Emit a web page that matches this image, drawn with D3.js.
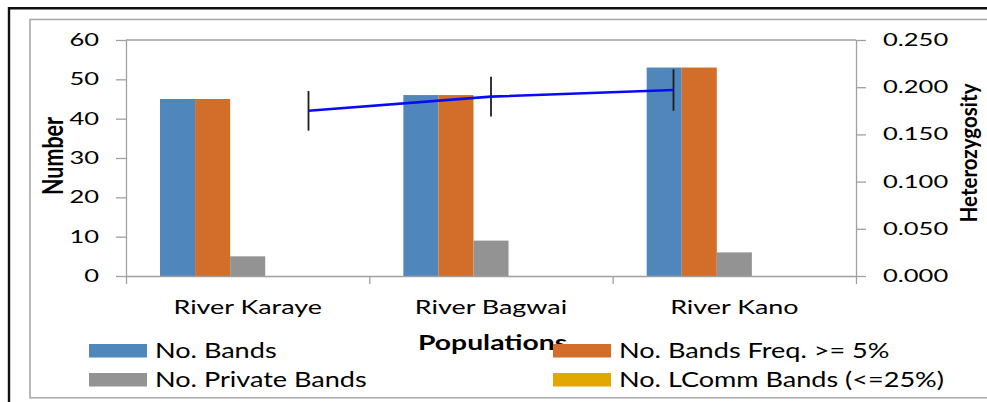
<!DOCTYPE html>
<html>
<head>
<meta charset="utf-8">
<script src="https://cdn.jsdelivr.net/npm/d3@7"></script>
<style>
  html, body { margin: 0; padding: 0; background: #fff; }
  svg { display: block; }
  text { font-family: Lato, "Open Sans", sans-serif; fill: #000; }
</style>
</head>
<body>
<svg id="chart" width="987" height="402"></svg>
<script>
// ---------- data ----------
const categories = ["River Karaye", "River Bagwai", "River Kano"];
const seriesNames = ["No. Bands", "No. Bands Freq. >= 5%", "No. Private Bands", "No. LComm Bands (<=25%)"];
const noBands = [45, 46, 53];
const noBandsFreq5 = [45, 46, 53];
const noPrivateBands = [5, 9, 6];
const noLCommBands = [0, 0, 0];
const heterozygosity = [0.175, 0.190, 0.197];
const heterozygosityError = [0.021, 0.021, 0.022];
const leftTicks = [0, 10, 20, 30, 40, 50, 60];
const rightTicks = [0, 0.05, 0.10, 0.15, 0.20, 0.25];
const xTitle = "Populations";
const yLeftTitle = "Number";
const yRightTitle = "Heterozygosity";

const seriesValues = [noBands, noBandsFreq5, noPrivateBands, noLCommBands];
const seriesColors = ["#4F87BC", "#D36D2A", "#939393", "#E2A700"];
const barSlots = 5; // the column groups leave room for five bars per category

// ---------- layout ----------
const W = 987, H = 402;
const plot = { left: 126, right: 856, top: 40, bottom: 276 };
const axisGray = "#A0A0A0";

const svg = d3.select("#chart");

function stretch(sel, k) {
  sel.each(function () {
    const w = this.getComputedTextLength();
    d3.select(this).attr("textLength", w * k).attr("lengthAdjust", "spacingAndGlyphs");
  });
}

svg.append("rect").attr("width", W).attr("height", H).attr("fill", "#fff");

// frames
svg.append("path").attr("d", `M9,${H} V8.3 H${W}`).attr("fill", "none")
  .attr("stroke", "#111").attr("stroke-width", 2.4);
svg.append("path").attr("d", `M${W},19.5 H30 V397.7 H${W}`).attr("fill", "none")
  .attr("stroke", "#A8A8A8").attr("stroke-width", 1.6);

// ---------- scales ----------
const x = d3.scaleBand().domain(categories).range([plot.left, plot.right]).padding(0);
const x1 = d3.scaleBand().domain(d3.range(barSlots)).range([0, x.bandwidth()]).paddingInner(0).paddingOuter(0.97);
const xEdge = d3.scaleLinear().domain([0, categories.length]).range([plot.left, plot.right]);
const xLine = d3.scalePoint().domain(categories).range([plot.left, plot.right]).padding(1);
const yL = d3.scaleLinear().domain([0, 60]).range([plot.bottom, plot.top]);
const yR = d3.scaleLinear().domain([0, 0.25]).range([plot.bottom, plot.top]);

// plot area top border
svg.append("line").attr("x1", plot.left).attr("x2", plot.right)
  .attr("y1", plot.top).attr("y2", plot.top).attr("stroke", axisGray).attr("stroke-width", 1.3);

// ---------- bars ----------
const barG = svg.append("g");
seriesValues.forEach((vals, si) => {
  barG.selectAll(null).data(categories).enter().append("rect")
    .attr("x", c => x(c) + x1(si))
    .attr("width", x1.bandwidth())
    .attr("y", (c, i) => yL(vals[i]))
    .attr("height", (c, i) => yL(0) - yL(vals[i]))
    .attr("fill", seriesColors[si]);
});

// ---------- axes ----------
function styleAxis(g) {
  g.selectAll("path.domain").attr("stroke", axisGray).attr("stroke-width", 1.3);
  g.selectAll(".tick line").attr("stroke", axisGray).attr("stroke-width", 1.3);
}

const gL = svg.append("g").attr("transform", `translate(${plot.left},0)`)
  .call(d3.axisLeft(yL).tickValues(leftTicks).tickSize(10).tickSizeOuter(0).tickPadding(17));
styleAxis(gL);
gL.selectAll(".tick text").attr("font-size", 17).attr("font-family", "Lato").attr("fill", "#000").call(stretch, 1.5);

const gR = svg.append("g").attr("transform", `translate(${plot.right},0)`)
  .call(d3.axisRight(yR).tickValues(rightTicks).tickFormat(d3.format(".3f")).tickSize(10).tickSizeOuter(0).tickPadding(17));
styleAxis(gR);
gR.selectAll(".tick text").attr("font-size", 17).attr("font-family", "Lato").attr("fill", "#000").call(stretch, 1.5);

const gB = svg.append("g").attr("transform", `translate(0,${plot.bottom})`)
  .call(d3.axisBottom(xEdge).tickValues(d3.range(categories.length + 1)).tickFormat("").tickSize(8).tickSizeOuter(0));
styleAxis(gB);

const gBL = svg.append("g").attr("transform", `translate(0,${plot.bottom})`)
  .call(d3.axisBottom(x).tickSize(0).tickPadding(24));
gBL.select("path.domain").remove();
gBL.selectAll(".tick text").attr("font-size", 19.5).attr("font-family", "Lato").attr("fill", "#000").call(stretch, 1.38);

// ---------- heterozygosity line with error bars ----------
svg.append("g").selectAll("line").data(categories).enter().append("line")
  .attr("x1", c => xLine(c)).attr("x2", c => xLine(c))
  .attr("y1", (c, i) => yR(heterozygosity[i] + heterozygosityError[i]))
  .attr("y2", (c, i) => yR(heterozygosity[i] - heterozygosityError[i]))
  .attr("stroke", "#1E1E1E").attr("stroke-width", 1.8);

svg.append("path").datum(categories)
  .attr("d", d3.line().x(c => xLine(c)).y((c, i) => yR(heterozygosity[i])))
  .attr("fill", "none").attr("stroke", "#0A0AFA").attr("stroke-width", 2.6);

// ---------- titles ----------
svg.append("text").attr("x", 418).attr("y", 350)
  .attr("font-size", 20.5).attr("font-weight", "bold").text(xTitle).call(stretch, 1.38);

svg.append("text").attr("transform", "translate(63,156) scale(1.35,1) rotate(-90)")
  .attr("text-anchor", "middle").attr("font-size", 21.5).attr("font-weight", "bold").text(yLeftTitle);

svg.append("text").attr("transform", "translate(977,153) scale(1.15,1) rotate(-90)")
  .attr("text-anchor", "middle").attr("font-size", 19).attr("font-weight", "bold").text(yRightTitle).call(stretch, 1.08);

// ---------- legend ----------
const legendCols = [89, 553], legendRows = [344, 373];
const legendOrder = [0, 1, 2, 3];
const lg = svg.append("g").selectAll("g").data(legendOrder).enter().append("g")
  .attr("transform", (d, i) => `translate(${legendCols[i % 2]},${legendRows[Math.floor(i / 2)]})`);
lg.append("rect").attr("width", 58).attr("height", 13.5).attr("fill", d => seriesColors[d]);
lg.append("text").attr("x", 66).attr("y", 13.5).attr("font-size", 20.5).text(d => seriesNames[d]).call(stretch, 1.32);
</script>
</body>
</html>
